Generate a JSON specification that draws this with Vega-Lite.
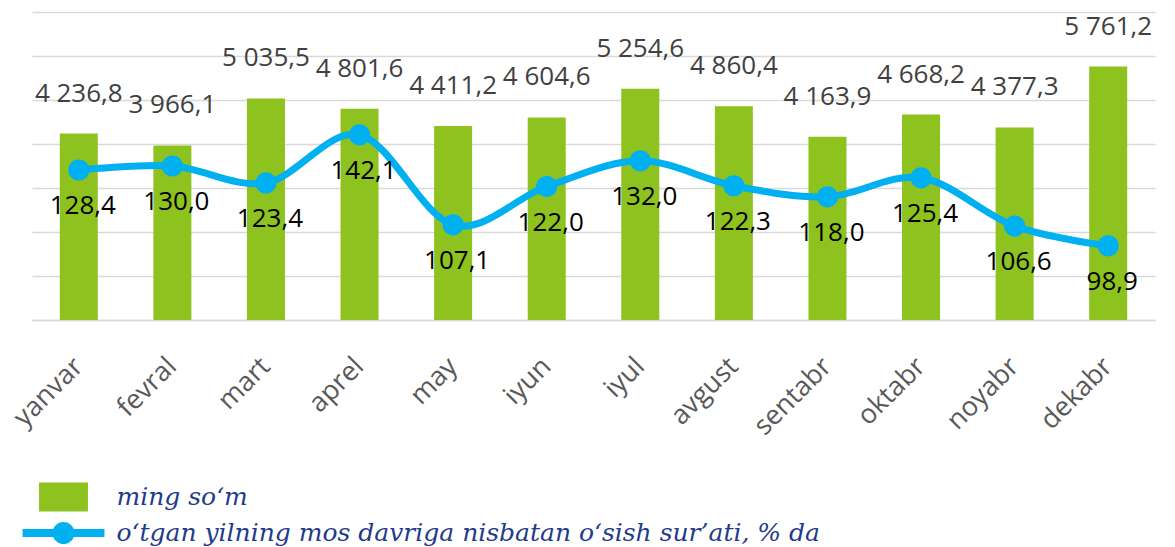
{
  "$schema": "https://vega.github.io/schema/vega-lite/v6.json",
  "width": 1123,
  "height": 308,
  "autosize": "none",
  "padding": {"left": 32, "top": 12, "right": 20, "bottom": 227},
  "background": "white",
  "config": {
    "view": {"stroke": null},
    "font": "Open Sans",
    "locale": {"number": {"decimal": ",", "thousands": " ", "grouping": [3], "currency": ["", ""]}}
  },
  "data": {
    "values": [
      {"month": "yanvar", "amount": 4236.8, "growth": 128.4},
      {"month": "fevral", "amount": 3966.1, "growth": 130.0},
      {"month": "mart", "amount": 5035.5, "growth": 123.4},
      {"month": "aprel", "amount": 4801.6, "growth": 142.1},
      {"month": "may", "amount": 4411.2, "growth": 107.1},
      {"month": "iyun", "amount": 4604.6, "growth": 122.0},
      {"month": "iyul", "amount": 5254.6, "growth": 132.0},
      {"month": "avgust", "amount": 4860.4, "growth": 122.3},
      {"month": "sentabr", "amount": 4163.9, "growth": 118.0},
      {"month": "oktabr", "amount": 4668.2, "growth": 125.4},
      {"month": "noyabr", "amount": 4377.3, "growth": 106.6},
      {"month": "dekabr", "amount": 5761.2, "growth": 98.9}
    ]
  },
  "encoding": {
    "x": {
      "field": "month",
      "type": "nominal",
      "sort": null,
      "scale": {"paddingInner": 0, "paddingOuter": 0},
      "axis": {
        "title": null,
        "labelAngle": -45,
        "labelAlign": "right",
        "labelBaseline": "middle",
        "labelFont": "Open Sans",
        "labelFontSize": 27,
        "labelColor": "#595959",
        "labelPadding": 42,
        "ticks": false,
        "domain": true,
        "domainColor": "#d9d9d9",
        "domainWidth": 1.5,
        "encode": {"labels": {"update": {"dx": {"signal": "6 + 18 * datum.index"}}}}
      }
    }
  },
  "layer": [
    {
      "layer": [
        {
          "mark": {"type": "bar", "size": 38},
          "encoding": {
            "y": {
              "field": "amount",
              "type": "quantitative",
              "scale": {"domain": [0, 7000], "nice": false},
              "axis": {
                "title": null,
                "values": [0, 1000, 2000, 3000, 4000, 5000, 6000, 7000],
                "labels": false,
                "ticks": false,
                "domain": false,
                "grid": true,
                "gridColor": "#d9d9d9",
                "gridWidth": 1.5
              }
            },
            "color": {
              "datum": "ming so‘m",
              "type": "nominal",
              "scale": {
                "domain": ["ming so‘m", "o‘tgan yilning mos davriga nisbatan o‘sish sur’ati, % da"],
                "range": ["#8DC21F", "#00B0F0"]
              },
              "legend": {
                "orient": "none",
                "legendX": 16.5,
                "legendY": 470,
                "title": null,
                "direction": "vertical",
                "padding": 0,
                "labelFont": "DejaVu Serif",
                "labelFontStyle": "italic",
                "labelFontSize": 25,
                "labelColor": "#1F3B8C",
                "labelLimit": 1000,
                "symbolSize": 900,
                "labelOffset": 38,
                "rowPadding": 6,
                "encode": {
                  "symbols": {
                    "update": {
                      "shape": {"signal": "datum.value === 'ming so‘m' ? 'M-1.63,-0.97H1.63V0.97H-1.63Z' : 'M-2.73,-0.267H-0.683A0.733,0.733 0 0 1 0.683,-0.267H2.73V0.267H0.683A0.733,0.733 0 0 1 -0.683,0.267H-2.73Z'"},
                      "fill": {"scale": "color", "field": "value"},
                      "strokeWidth": {"value": 0},
                      "opacity": {"value": 1}
                    }
                  }
                }
              }
            }
          }
        },
        {
          "mark": {"type": "text", "dy": -40, "fontSize": 26, "font": "Open Sans", "color": "#404040", "baseline": "middle"},
          "encoding": {
            "y": {"field": "amount", "type": "quantitative"},
            "text": {"field": "amount", "type": "quantitative", "format": ",.1f"}
          }
        }
      ]
    },
    {
      "layer": [
        {
          "mark": {"type": "line", "interpolate": "cardinal", "strokeWidth": 7},
          "encoding": {
            "y": {"field": "growth", "type": "quantitative", "scale": {"domain": [70, 190], "nice": false}, "axis": null},
            "color": {"datum": "o‘tgan yilning mos davriga nisbatan o‘sish sur’ati, % da", "type": "nominal"}
          }
        },
        {
          "mark": {"type": "point", "filled": true, "size": 450, "opacity": 1, "shape": "circle"},
          "encoding": {
            "y": {"field": "growth", "type": "quantitative", "axis": null},
            "color": {"datum": "o‘tgan yilning mos davriga nisbatan o‘sish sur’ati, % da", "type": "nominal"}
          }
        },
        {
          "mark": {"type": "text", "dy": 36, "dx": 4, "fontSize": 26, "font": "Open Sans", "color": "#000000", "baseline": "middle"},
          "encoding": {
            "y": {"field": "growth", "type": "quantitative", "axis": null},
            "text": {"field": "growth", "type": "quantitative", "format": ",.1f"}
          }
        }
      ]
    }
  ],
  "resolve": {"scale": {"y": "independent"}}
}
